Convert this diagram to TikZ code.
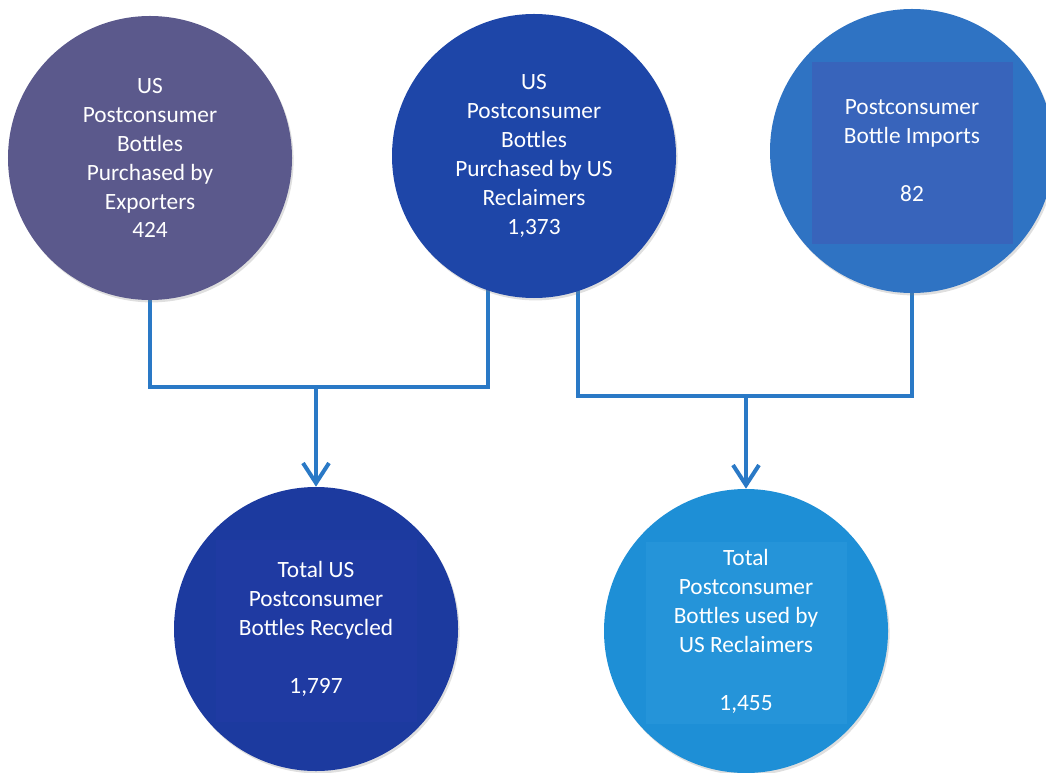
\documentclass[tikz,border=0pt]{standalone}
\usepackage{fontspec}
\setmainfont{Carlito}
\usetikzlibrary{arrows.meta,positioning,calc,backgrounds,shadows}

\definecolor{exportgray}{HTML}{5B598C}
\definecolor{reclaimblue}{HTML}{1E46A8}
\definecolor{importblue}{HTML}{2F73C3}
\definecolor{importpatch}{HTML}{3864BB}
\definecolor{recycledblue}{HTML}{1C3A9F}
\definecolor{recycledpatch}{HTML}{1F3AA2}
\definecolor{usedblue}{HTML}{1E8FD6}
\definecolor{usedpatch}{HTML}{2594D9}
\definecolor{linkblue}{HTML}{2A79C6}

\begin{document}
\begin{tikzpicture}[
  x=0.25mm, y=-0.25mm,
  font=\fontsize{16.6pt}{20.6pt}\selectfont,
  bubble/.style={circle, minimum size=71mm, inner sep=0pt, align=center, text=white,
    drop shadow={shadow xshift=0.4mm, shadow yshift=-0.6mm, opacity=0.25}},
  patch/.style={path picture={\fill[#1] ($(path picture bounding box.center)+(-100,-89)$) rectangle ++(201,182);}},
  conn/.style={draw=linkblue, line width=1mm},
  arr/.style={conn, -{Straight Barb[length=5mm, width=6.5mm]}},
]
\useasboundingbox (0,0) rectangle (1046,773);

% ================= sources (top row) =================
\node[bubble, fill=exportgray] (exporters) at (150,158)
  {US\\Postconsumer\\Bottles\\Purchased by\\Exporters\\424};
\node[bubble, fill=reclaimblue] (reclaimers) at (534,156)
  {US\\Postconsumer\\Bottles\\Purchased by US\\Reclaimers\\1,373};
\node[bubble, fill=importblue, patch=importpatch] (imports) at (912,151)
  {Postconsumer\\Bottle Imports\\~\\82};

% ================= totals (bottom row) =================
\node[bubble, fill=recycledblue, patch=recycledpatch] (recycled) at (316,629)
  {Total US\\Postconsumer\\Bottles Recycled\\~\\1,797};
\node[bubble, fill=usedblue, patch=usedpatch] (used) at (746,631)
  {Total\\Postconsumer\\Bottles used by\\US Reclaimers\\~\\1,455};

% junctions on the two collector lines
\coordinate (busL) at (316,387);
\coordinate (busR) at (746,396);
\coordinate (reclaimL) at ($(reclaimers.center)+(-46,0)$);
\coordinate (reclaimR) at ($(reclaimers.center)+(44,0)$);

% collector lines sit behind the circles
\begin{scope}[on background layer]
  \draw[conn] (exporters) |- (busL) -| (reclaimL);
  \draw[conn] (reclaimR) |- (busR) -| (imports);
\end{scope}

\draw[arr] (busL) -- (recycled);
\draw[arr] (busR) -- (used);

\end{tikzpicture}
\end{document}
